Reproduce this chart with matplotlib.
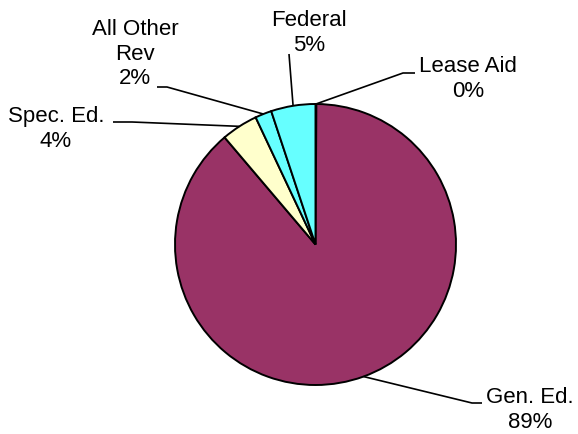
import numpy as np
import matplotlib
matplotlib.use('Agg')
import matplotlib.pyplot as plt

plt.rcParams['font.family'] = ['Liberation Sans', 'DejaVu Sans']

# revenue shares (%), clockwise from 12 o'clock
labels = ['Lease Aid', 'Gen. Ed.', 'Spec. Ed.', 'All Other\nRev', 'Federal']
values = [0.1, 88.7, 4.2, 1.9, 5.1]
colors = ['#66FFFF', '#993366', '#FFFFCC', '#66FFFF', '#66FFFF']

W, H = 578, 435

# label text centre and leader elbow points, in image pixels (y down)
label_pos = {
	'Lease Aid': ((468, 79), [(403, 74), (415, 74)]),
	'Gen. Ed.': ((530, 410), [(472, 404), (482, 404)]),
	'Spec. Ed.': ((56, 129), [(132, 123), (113, 123)]),
	'All Other\nRev': ((135, 54), [(167, 88), (157, 88)]),
	'Federal': ((309, 33), [(289, 55)]),
}

fig = plt.figure(figsize=(W / 100, H / 100), dpi=100)
ax = fig.add_axes([0, 0, 1, 1])

cx, cy, r = 315.5, H - 245.5, 140.5
wedges, _ = ax.pie(values, colors=colors, startangle=90, counterclock=False,
				   center=(cx, cy), radius=r,
				   wedgeprops=dict(edgecolor='black', linewidth=1.4))

ax.set_xlim(0, W)
ax.set_ylim(0, H)
ax.set_aspect('equal')
ax.axis('off')

for w, lab, v in zip(wedges, labels, values):
	mid = np.deg2rad((w.theta1 + w.theta2) / 2)
	ax_pt = (cx + r * np.cos(mid), cy + r * np.sin(mid))
	(tx, ty), elbows = label_pos[lab]
	pts = [ax_pt] + [(x, H - y) for x, y in elbows]
	xs, ys = zip(*pts)
	ax.plot(xs, ys, color='black', lw=1.2, solid_capstyle='butt')
	txt = '{}\n{:.0f}%'.format(lab, round(v))
	ax.text(tx, H - ty, txt, ha='center', va='center', multialignment='center',
			fontsize=16, linespacing=1.2)

fig.savefig('out.png', dpi=100, facecolor='white')
